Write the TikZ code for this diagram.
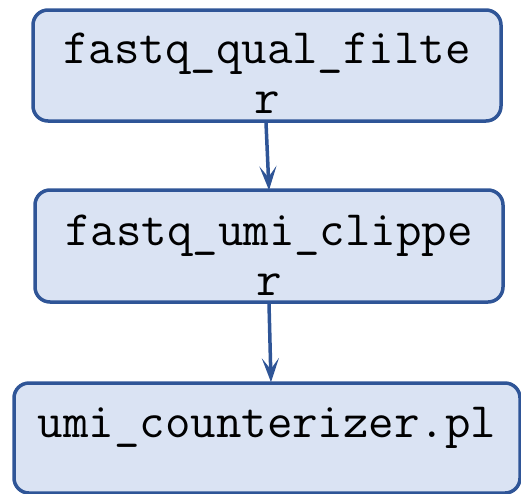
\documentclass[tikz,border=0pt]{standalone}
\usepackage{fontspec}
\usetikzlibrary{positioning}
\usetikzlibrary{arrows.meta}

\definecolor{stepfill}{HTML}{DAE3F3}
\definecolor{stepline}{HTML}{2F5597}

\tikzset{
  stepbox/.style={draw=stepline, fill=stepfill, line width=3.5pt, rounded corners=15pt,
    font=\ttfamily\fontsize{49.5}{50}\selectfont, align=center, inner sep=0pt},
  flow/.style={draw=stepline, line width=3.5pt,
    -{Stealth[length=24pt, width=17pt, inset=11pt]}}
}

\begin{document}
\begin{tikzpicture}[x=1pt, y=-1pt]
\useasboundingbox (0,0) rectangle (521,493);

% the three pipeline steps
\node[stepbox, minimum width=468pt, minimum height=111pt, text height=95pt, text depth=0pt]
  (qual) at (267,65.5) {fastq\_qual\_filte\\r};
\node[stepbox, minimum width=468pt, minimum height=112pt, text height=98pt, text depth=0pt]
  (clip) at (269,246) {fastq\_umi\_clippe\\r};
\node[stepbox, minimum width=506pt, minimum height=110pt, text height=25pt, text depth=26pt]
  (count) at (267,438) {umi\_counterizer.pl};

% connectors
\draw[flow] ([xshift=-1pt]qual.south) -- ([yshift=-2pt]clip.north);
\draw[flow] (clip.south) -- ([xshift=4pt, yshift=-1pt]count.north);
\end{tikzpicture}
\end{document}
